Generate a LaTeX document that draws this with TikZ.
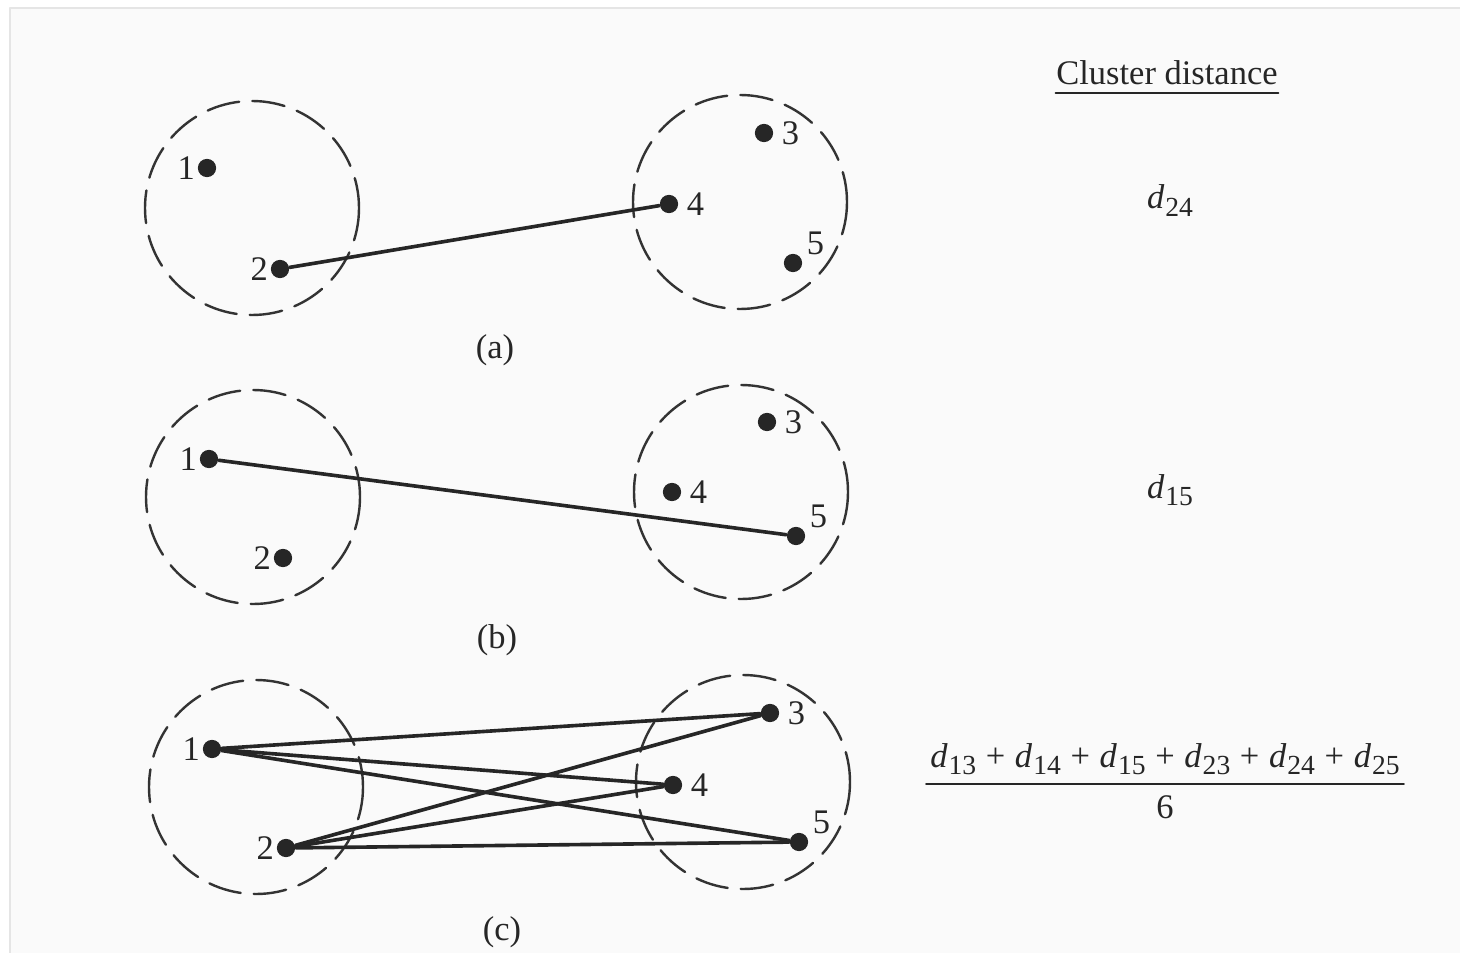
\documentclass[tikz,border=0pt]{standalone}
\usepackage{fontspec}
\setmainfont{Liberation Serif}

\newcommand{\dsub}[1]{\textit{d}\kern0.3pt\raisebox{-0.5ex}{\footnotesize #1}}
\newcommand{\pls}{\hspace{2.8pt}+\hspace{2.8pt}}

\begin{document}
\begin{tikzpicture}[x=0.29pt,y=-0.29pt,line cap=round,line join=round,
  obj/.style={circle,fill=black!85,inner sep=0pt,minimum size=5.3pt},
  clus/.style={draw=black!80,line width=0.7pt,dash pattern=on 9.5pt off 3.8pt},
  link/.style={draw=black!85,line width=1.05pt},
  num/.style={inner sep=0.5pt,text=black!85},
  lft/.style={label={[num]left:#1}},
  rgt/.style={label={[num,label distance=1.6pt]right:#1}},
  upr/.style={label={[num,label distance=0.8pt]25:#1}}]
  \useasboundingbox (0,0) rectangle (1460,953);
  \fill[white] (0,0) rectangle (1460,953);
  \draw[black!10,fill=black!2] (10,8) rectangle (1475,968);

  % (a) single linkage
  \draw[clus] (252,208) circle [radius=107];
  \draw[clus] (740,202) circle [radius=107];
  \node[obj,lft=1] (a1) at (207,168) {};
  \node[obj,lft=2] (a2) at (280,269) {};
  \node[obj,rgt=3] (a3) at (764,133) {};
  \node[obj,rgt=4] (a4) at (669,204) {};
  \node[obj,upr=5] (a5) at (793,263) {};
  \draw[link] (a2) -- (a4);
  \node[num] (capa) at (495,350) {(a)};

  % (b) complete linkage
  \draw[clus] (253,497) circle [radius=107];
  \draw[clus] (741,492) circle [radius=107];
  \node[obj,lft=1] (b1) at (209,459) {};
  \node[obj,lft=2] (b2) at (283,558) {};
  \node[obj,rgt=3] (b3) at (767,422) {};
  \node[obj,rgt=4] (b4) at (672,492) {};
  \node[obj,upr=5] (b5) at (796,536) {};
  \draw[link] (b1) -- (b5);
  \node[num] (capb) at (497,640) {(b)};

  % (c) average linkage
  \draw[clus] (256,787) circle [radius=107];
  \draw[clus] (743,782) circle [radius=107];
  \node[obj,lft=1] (c1) at (212,749) {};
  \node[obj,lft=2] (c2) at (286,848) {};
  \node[obj,rgt=3] (c3) at (770,713) {};
  \node[obj,rgt=4] (c4) at (673,785) {};
  \node[obj,upr=5] (c5) at (799,842) {};
  \foreach \s in {1,2} {
    \foreach \t in {3,4,5} {
      \draw[link] (c\s) -- (c\t);
    }
  }
  \node[num] (capc) at (502,932) {(c)};

  % distances
  \node[num,inner xsep=0pt,inner ysep=2pt,anchor=base] (title) at (1167,85) {Cluster distance};
  \draw[black!85,line width=0.6pt] (title.south west) -- (title.south east);
  \node[num,anchor=base] (da) at (1170,209) {\dsub{24}};
  \node[num,anchor=base] (db) at (1170,498) {\dsub{15}};
  \node[num,inner xsep=1pt,inner ysep=2.3pt,anchor=base] (numer) at (1165,767)
    {\dsub{13}\pls\dsub{14}\pls\dsub{15}\pls\dsub{23}\pls\dsub{24}\pls\dsub{25}};
  \draw[black!85,line width=0.6pt] (numer.south west) -- (numer.south east);
  \node[num,anchor=base] (denom) at (1165,818) {6};
\end{tikzpicture}
\end{document}
